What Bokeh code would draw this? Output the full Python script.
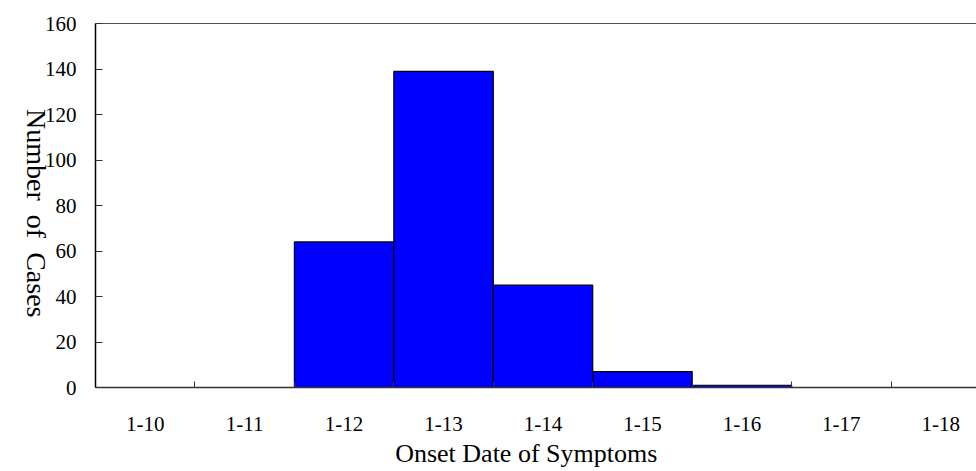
import math
from bokeh.plotting import figure
from bokeh.models import FixedTicker, LinearAxis, Range1d
from bokeh.embed import file_html
from bokeh.resources import INLINE

dates = ["1-10", "1-11", "1-12", "1-13", "1-14", "1-15", "1-16", "1-17", "1-18"]
cases = [0, 0, 64, 139, 45, 7, 1, 0, 0]
y_ticks = [0, 20, 40, 60, 80, 100, 120, 140, 160]
NB = "\u00a0"
y_title = "Number" + NB * 2 + "of" + NB * 2 + "Cases"
x_title = "Onset Date of Symptoms"

FONT = "Liberation Serif"
pos = list(range(len(dates)))

p = figure(width=976, height=471, output_backend="svg", toolbar_location=None,
           x_range=Range1d(-0.5, 8.359), y_range=Range1d(0, 160),
           min_border_left=95, min_border_top=23, min_border_right=0,
           min_border_bottom=84, x_axis_location=None, y_axis_location=None)
p.outline_line_color = None
p.xgrid.visible = False
p.ygrid.visible = False

nz = [i for i, c in enumerate(cases) if c > 0]
p.vbar(x=[pos[i] for i in nz], top=[cases[i] for i in nz], width=1.0, bottom=0,
       fill_color="#0000FF", line_color="black", line_width=1.2)

xa = LinearAxis(ticker=FixedTicker(ticks=pos, minor_ticks=[i + 0.5 for i in pos]),
                major_label_overrides={i: d for i, d in zip(pos, dates)})
xa.major_tick_line_color = None
xa.major_tick_in = 0
xa.major_tick_out = 0
xa.minor_tick_in = 6
xa.minor_tick_out = 0
xa.minor_tick_line_color = "#333333"
xa.axis_line_color = "#333333"
xa.axis_line_width = 1.5
xa.major_label_text_font = FONT
xa.major_label_text_font_size = "21px"
xa.major_label_text_color = "black"
xa.major_label_standoff = 29
xa.axis_label = x_title + NB * 3
xa.axis_label_text_font = FONT
xa.axis_label_text_font_size = "26px"
xa.axis_label_text_font_style = "normal"
xa.axis_label_text_color = "black"
xa.axis_label_text_line_height = 1.0
xa.axis_label_standoff = 5
p.add_layout(xa, "below")

ya = LinearAxis(ticker=FixedTicker(ticks=y_ticks))
ya.major_tick_in = 7
ya.major_tick_out = 0
ya.minor_tick_line_color = None
ya.major_tick_line_color = "#333333"
ya.axis_line_color = "black"
ya.axis_line_width = 1.5
ya.major_label_text_font = FONT
ya.major_label_text_font_size = "21px"
ya.major_label_text_color = "black"
ya.major_label_standoff = 19
ya.axis_label = y_title + NB * 10
ya.axis_label_text_font = FONT
ya.axis_label_text_font_size = "28px"
ya.axis_label_text_font_style = "normal"
ya.axis_label_text_color = "black"
ya.axis_label_text_line_height = 1.0
ya.axis_label_standoff = 6
ya.axis_label_orientation = -math.pi / 2
ya.axis_label_align = "start"
p.add_layout(ya, "left")

ta = LinearAxis(ticker=FixedTicker(ticks=[]))
ta.axis_line_color = "#555555"
ta.axis_line_width = 1
ta.major_label_text_font_size = "0px"
p.add_layout(ta, "above")

open("out.html", "w").write(file_html(p, INLINE))
